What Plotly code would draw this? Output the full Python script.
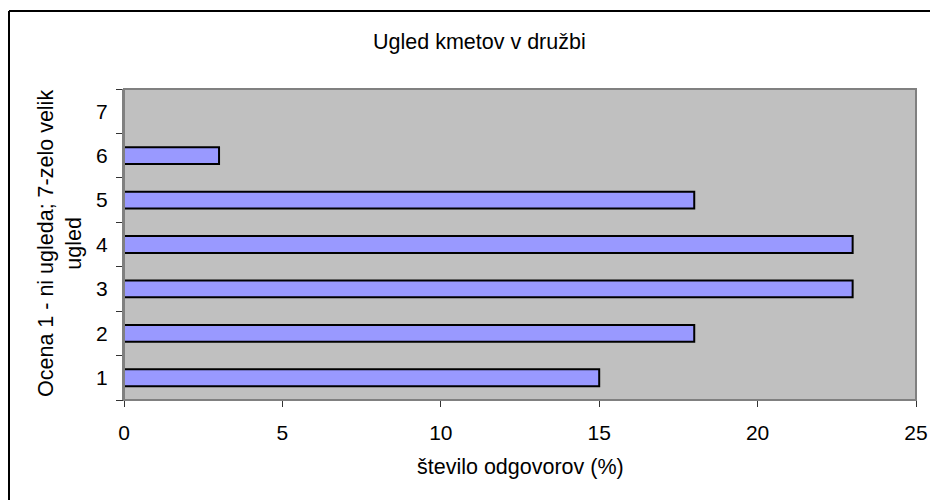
import plotly.graph_objects as go

categories = ["1", "2", "3", "4", "5", "6", "7"]
values = [15, 18, 23, 23, 18, 3, 0]
x_ticks = [0, 5, 10, 15, 20, 25]

title_text = "Ugled kmetov v družbi"
y_title = "Ocena 1 - ni ugleda; 7-zelo velik<br>ugled"
x_title = "število odgovorov (%)"

W, H = 938, 500
OFF = 8  # page body margin
L, R, T, B = 116, 30, 81, 108
pw, ph = W - L - R, H - T - B

def px_to_paper_x(px):
    return (px - OFF - L) / pw

def py_to_paper_y(py):
    return 1 - (py - OFF - T) / ph

font_family = "Liberation Sans, Arial, sans-serif"

fig = go.Figure()
fig.add_trace(go.Bar(
    y=categories, x=values, orientation="h",
    marker=dict(color="#9999FF", line=dict(color="#000000", width=2)),
    showlegend=False, hoverinfo="x+y",
))

fig.update_layout(
    width=W, height=H,
    margin=dict(l=L, r=R, t=T, b=B),
    paper_bgcolor="white", plot_bgcolor="#C0C0C0",
    font=dict(family=font_family, size=21, color="black"),
    bargap=0.62,
    xaxis=dict(
        range=[0, 25], tickvals=x_ticks, ticks="outside", ticklen=6,
        tickcolor="#333333", tickwidth=1, showgrid=False, zeroline=False,
        showline=True, linecolor="#333333", linewidth=1,
        ticklabelstandoff=8, fixedrange=True,
    ),
    yaxis=dict(
        type="category", categoryorder="array", categoryarray=categories,
        tickson="boundaries", ticks="outside", ticklen=6, tickcolor="#333333",
        showgrid=False, zeroline=False, showline=True, linecolor="#808080",
        linewidth=2, ticklabelstandoff=10, fixedrange=True,
    ),
    annotations=[
        dict(text=title_text, xref="paper", yref="paper",
             x=px_to_paper_x(479), y=py_to_paper_y(42), showarrow=False,
             xanchor="center", yanchor="middle", font=dict(size=21.5)),
        dict(text=y_title, xref="paper", yref="paper",
             x=px_to_paper_x(60), y=py_to_paper_y(244), showarrow=False,
             textangle=-90, xanchor="center", yanchor="middle",
             font=dict(size=21.5)),
        dict(text=x_title, xref="paper", yref="paper",
             x=px_to_paper_x(520), y=py_to_paper_y(467), showarrow=False,
             xanchor="center", yanchor="middle", font=dict(size=21.5)),
    ],
    shapes=[
        dict(type="rect", xref="paper", yref="paper", x0=0, y0=0, x1=1, y1=1,
             line=dict(color="#808080", width=2), layer="above"),
        dict(type="line", xref="paper", yref="paper",
             x0=px_to_paper_x(9), x1=px_to_paper_x(9),
             y0=py_to_paper_y(11), y1=py_to_paper_y(520),
             line=dict(color="black", width=2)),
        dict(type="line", xref="paper", yref="paper",
             x0=px_to_paper_x(9), x1=px_to_paper_x(960),
             y0=py_to_paper_y(11), y1=py_to_paper_y(11),
             line=dict(color="black", width=2)),
    ],
)

fig.write_html("out.html")
